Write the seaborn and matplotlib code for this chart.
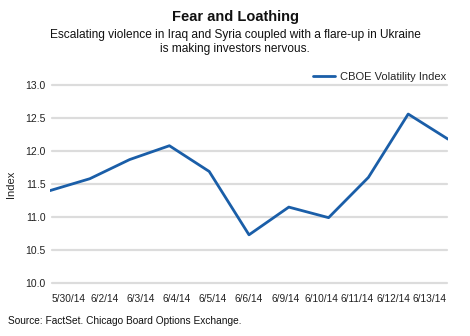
import matplotlib
matplotlib.use("Agg")
import matplotlib.pyplot as plt
import seaborn as sns
import pandas as pd
import numpy as np

dates = ["5/30/14", "6/2/14", "6/3/14", "6/4/14", "6/5/14", "6/6/14",
         "6/9/14", "6/10/14", "6/11/14", "6/12/14", "6/13/14"]
vix = [11.40, 11.58, 11.87, 12.08, 11.69, 10.73, 11.15, 10.99, 11.60, 12.56, 12.18]
yticks = [10.0, 10.5, 11.0, 11.5, 12.0, 12.5, 13.0]

sns.set_theme(style="white")
plt.rcParams['font.family'] = ['Liberation Sans', 'DejaVu Sans']

df = pd.DataFrame({"pos": np.arange(len(dates)), "value": vix})

fig = plt.figure(figsize=(4.7, 3.36), dpi=100)
ax = fig.add_axes([50/470, 1-283/336, 398/470, 198/336])

for y in yticks:
    ax.axhline(y, xmin=0.005, xmax=0.998, color="#dcdcdc", lw=1.6, zorder=0, clip_on=False)

sns.lineplot(data=df, x="pos", y="value", ax=ax, color="#1a5ea8", lw=2.0,
             label="CBOE Volatility Index", legend=False)

n = len(dates)
ax.set_xlim(0, n - 1)
ax.set_ylim(10, 13)
ax.set_xticks([(i + 0.5) * (n - 1) / n for i in range(n)])
ax.set_xticklabels(dates, fontsize=7.3)
ax.set_yticks(yticks)
ax.set_yticklabels([f"{v:.1f}" for v in yticks], fontsize=7.5)
ax.tick_params(axis="y", length=0, pad=3, colors="#222222")
ax.tick_params(axis="x", length=0, pad=8, colors="#222222")
ax.set_xlabel("")
ax.set_ylabel("Index", fontsize=8, color="#222222", labelpad=7)
for s in ax.spines.values():
    s.set_visible(False)

leg = fig.legend(handles=ax.get_lines()[-1:], labels=["CBOE Volatility Index"],
                 loc="center right", bbox_to_anchor=(451/470, 1-77/336),
                 frameon=False, fontsize=8, handlelength=2.0, handletextpad=0.5,
                 borderaxespad=0)

fig.text(0.5, 1-17/336, "Fear and Loathing", ha="center", va="center",
         fontsize=10.5, fontweight="bold", color="#111111")
fig.text(0.5, 1-35/336, "Escalating violence in Iraq and Syria coupled with a flare-up in Ukraine",
         ha="center", va="center", fontsize=8.6, color="#111111")
fig.text(0.5, 1-49/336, "is making investors nervous.",
         ha="center", va="center", fontsize=8.6, color="#111111")
fig.text(8/470, 1-321/336, "Source: FactSet. Chicago Board Options Exchange.",
         ha="left", va="center", fontsize=7.3, color="#111111")

fig.savefig("out.png", dpi=100, facecolor="white")
